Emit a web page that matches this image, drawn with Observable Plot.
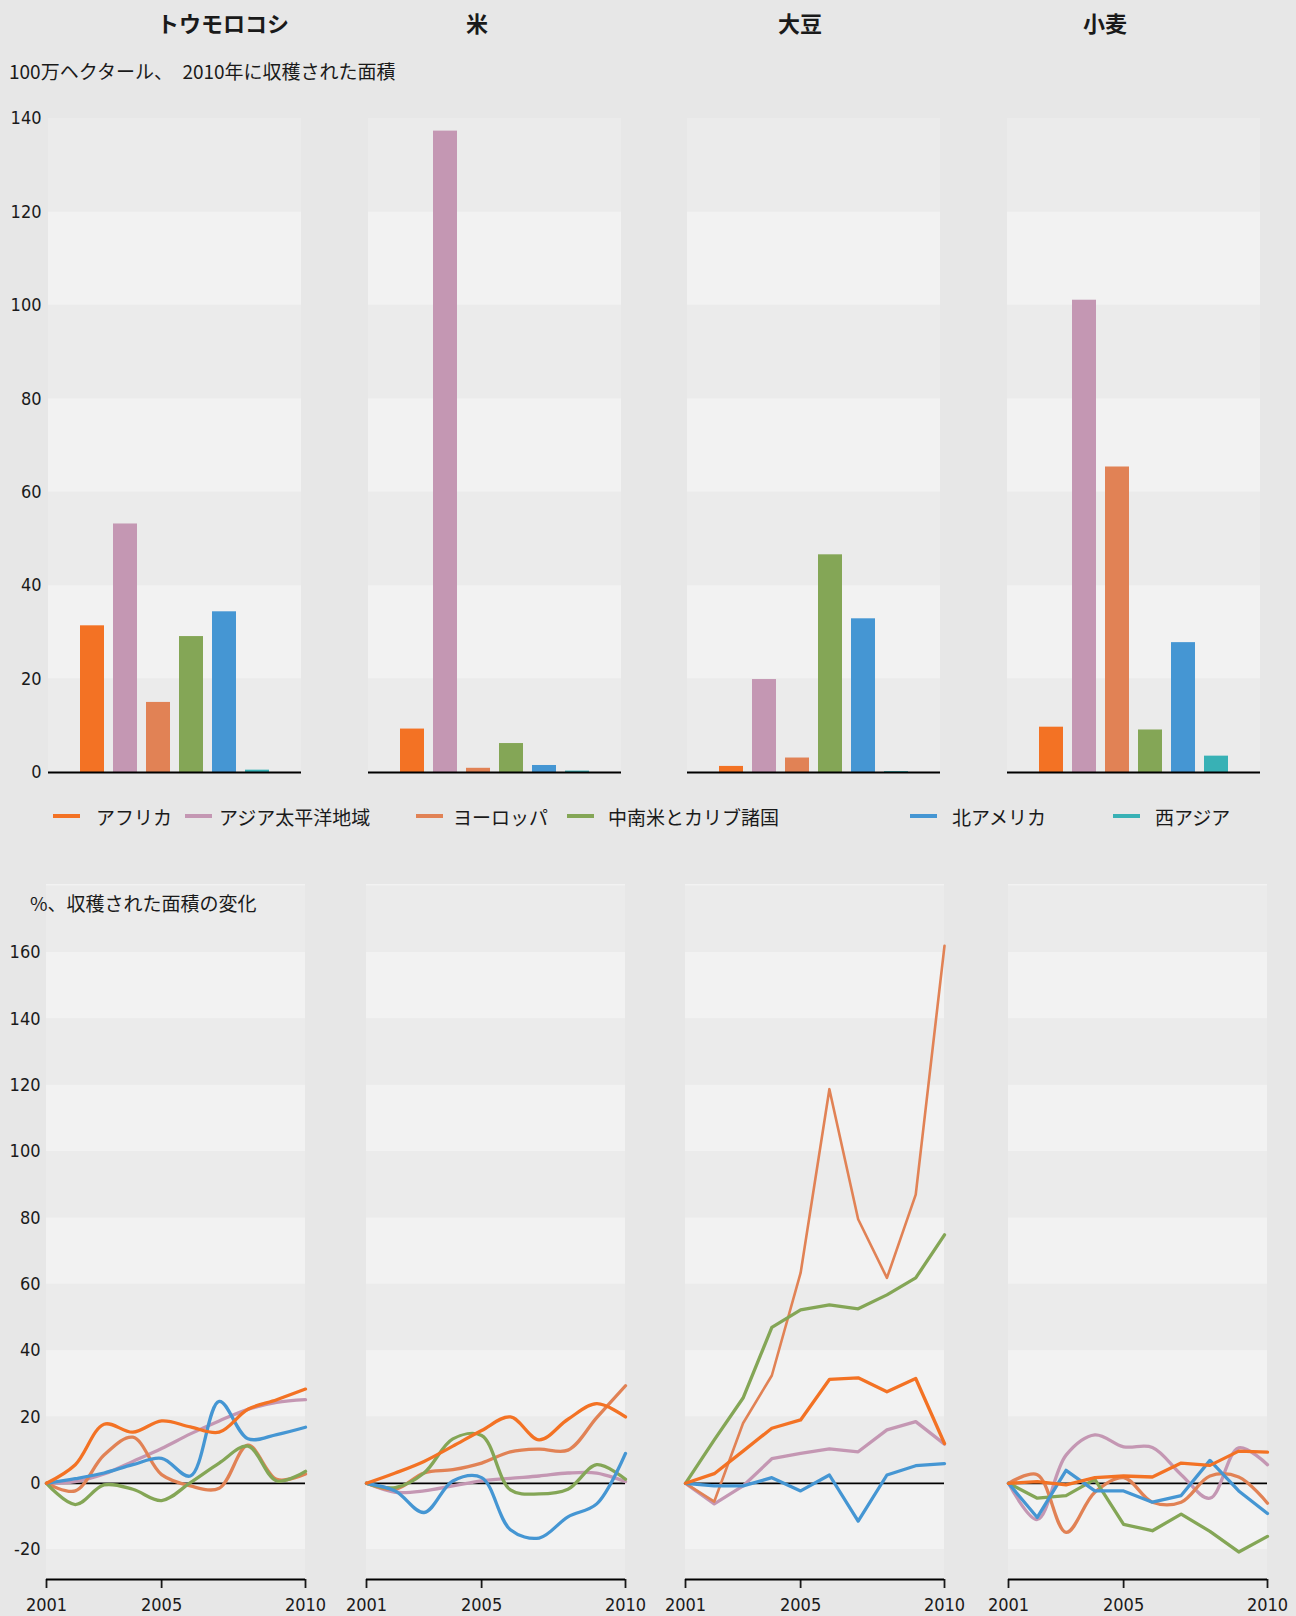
<!DOCTYPE html>
<html><head><meta charset="utf-8">
<script src="https://cdn.jsdelivr.net/npm/d3@7"></script>
<script src="https://cdn.jsdelivr.net/npm/@observablehq/plot@0.6"></script>
<style>
body{margin:0;background:#e7e7e7;}
#root{position:relative;width:1296px;height:1616px;background:#e7e7e7;overflow:hidden;font-family:"Noto Sans CJK JP","Noto Sans",sans-serif;color:#1a1a1a;}
.abs{position:absolute;white-space:nowrap;line-height:1;z-index:5;}
.title{font-weight:700;font-size:22px;transform:translate(-50%,-50%);}
.lab{font-size:19px;transform:translateY(-50%);}
.sw{position:absolute;height:4px;width:27px;transform:translateY(-50%);z-index:5;}
svg g[aria-label="x-axis tick"] path{stroke-width:1.8;}
</style>
</head><body><div id="root"></div>
<script>
// ---------- data ----------
const crops = ["トウモロコシ", "米", "大豆", "小麦"];
const regions = ["アフリカ", "アジア太平洋地域", "ヨーロッパ", "中南米とカリブ諸国", "北アメリカ", "西アジア"];
const regionColors = ["#f37224", "#c497b3", "#e18255", "#84a656", "#4596d3", "#38b1b5"];
const areaTicks = [0, 20, 40, 60, 80, 100, 120, 140];
const changeTicks = [-20, 0, 20, 40, 60, 80, 100, 120, 140, 160];
const yearTicks = [2001, 2005, 2010];
const years = [2001, 2002, 2003, 2004, 2005, 2006, 2007, 2008, 2009, 2010];

// million hectares harvested in 2010, by region (regions order)
const area2010Corn  = [31.4, 53.2, 15.0, 29.1, 34.4, 0.5];
const area2010Rice  = [9.3, 137.3, 0.9, 6.2, 1.5, 0.3];
const area2010Soy   = [1.3, 19.9, 3.1, 46.6, 32.9, 0.2];
const area2010Wheat = [9.7, 101.1, 65.4, 9.1, 27.8, 3.5];

// % change in harvested area since 2001; rows: アフリカ, アジア太平洋地域, ヨーロッパ, 中南米とカリブ諸国, 北アメリカ
const changeCorn = [
  [0, 5.6, 17.8, 15.4, 18.8, 17.0, 15.4, 22.3, 25.2, 28.4],
  [0, 0.5, 2.8, 6.6, 10.5, 14.9, 18.8, 22.3, 24.4, 25.2],
  [0, -2.3, 8.5, 13.9, 2.6, -0.8, -1.5, 11.5, 1.2, 2.8],
  [0, -6.4, -0.5, -1.8, -5.2, 0.2, 6.1, 11.2, 0.7, 3.6],
  [0, 1.4, 3.1, 5.6, 7.5, 2.2, 24.7, 13.4, 14.7, 16.9]
];
const changeRice = [
  [0, 3.1, 6.6, 11.2, 15.9, 20.0, 13.1, 19.3, 24.0, 20.0],
  [0, -2.7, -2.3, -0.8, 0.7, 1.5, 2.2, 3.1, 3.1, 0.5],
  [0, -1.8, 3.1, 4.1, 6.1, 9.5, 10.3, 10.0, 19.8, 29.4],
  [0, -1.3, 3.1, 13.4, 14.4, -2.0, -3.2, -1.8, 5.6, 1.2],
  [0, -2.3, -8.8, 0.7, 1.7, -14.0, -16.5, -10.1, -6.2, 9.0]
];
const changeSoy = [
  [0, 2.9, 9.7, 16.6, 19.1, 31.3, 31.8, 27.6, 31.6, 12.0],
  [0, -6.2, -0.8, 7.4, 9.0, 10.4, 9.5, 16.1, 18.6, 11.8],
  [0, -5.5, 18.1, 32.5, 63.4, 118.8, 79.6, 61.9, 87.0, 162.0],
  [0, 13.1, 25.7, 47.0, 52.3, 53.8, 52.6, 56.8, 61.9, 74.9],
  [0, -0.8, -0.8, 1.7, -2.3, 2.5, -11.4, 2.5, 5.3, 5.9]
];
const changeWheat = [
  [0, 0.5, -0.5, 1.7, 2.2, 1.9, 6.1, 5.4, 9.7, 9.4],
  [0, -10.9, 8.5, 14.6, 11.0, 10.8, 2.6, -4.5, 10.7, 5.6],
  [0, 2.6, -14.8, -2.7, 1.7, -5.7, -5.7, 2.2, 1.9, -6.0],
  [0, -4.5, -3.7, 1.2, -12.4, -14.3, -9.3, -14.5, -20.7, -16.0],
  [0, -10.3, 3.9, -2.3, -2.3, -5.7, -3.7, 6.9, -2.3, -9.1]
];

// ---------- layout ----------
const root = document.getElementById("root");
const DARK = "#ebebeb", LIGHT = "#f2f2f2";
const tickFont = {background: "transparent", fontFamily: "'DejaVu Sans Condensed','DejaVu Sans',sans-serif", fontSize: "18px", color: "#1a1a1a", overflow: "visible"};

function addText(cls, text, x, y) {
  const d = document.createElement("div");
  d.className = "abs " + cls;
  d.textContent = text;
  d.style.left = x + "px"; d.style.top = y + "px";
  root.appendChild(d);
}
function place(svg, left, top) {
  svg.style.position = "absolute";
  svg.style.left = left + "px";
  svg.style.top = top + "px";
  svg.style.maxWidth = "none";
  svg.style.zIndex = "1";
  root.appendChild(svg);
}
function bands(lo, hi) {
  const out = [];
  for (let b = Math.floor(lo / 20) * 20; b < hi; b += 20) {
    out.push({y1: Math.max(b, lo), y2: Math.min(b + 20, hi), dark: ((b / 20) % 2 + 2) % 2 === 0});
  }
  return out;
}

// titles
const titleX = [223, 477, 800, 1105];
crops.forEach((c, i) => addText("title", c, titleX[i], 22));
addText("lab", "100万ヘクタール、　2010年に収穫された面積", 9, 70);
addText("lab", "%、収穫された面積の変化", 30, 902);

// ---------- top: bars ----------
const areas = [area2010Corn, area2010Rice, area2010Soy, area2010Wheat];
const barLefts = [48, 368, 687, 1007];
const topBands = bands(0, 140);
areas.forEach((vals, i) => {
  const ml = i === 0 ? 48 : 0;
  const data = regions.map((r, k) => ({region: r, value: vals[k]}));
  const svg = Plot.plot({
    width: ml + 253, height: 674,
    marginLeft: ml, marginRight: 0, marginTop: 10, marginBottom: 10,
    style: tickFont,
    x: {domain: regions, paddingInner: 0.26, paddingOuter: 0.87, axis: null},
    y: {domain: [0, 140], ticks: areaTicks, tickFormat: d => String(d), tickSize: 0, tickPadding: 7, label: null, axis: i === 0 ? "left" : null},
    color: {domain: regions, range: regionColors},
    marks: [
      Plot.rect(topBands.filter(d => d.dark), {y1: "y1", y2: "y2", fill: DARK}),
      Plot.rect(topBands.filter(d => !d.dark), {y1: "y1", y2: "y2", fill: LIGHT}),
      Plot.barY(data, {x: "region", y: "value", fill: "region"}),
      Plot.ruleY([0], {stroke: "#000", strokeWidth: 2.2})
    ]
  });
  place(svg, barLefts[i] - ml, 108);
});

// legend
const swX = [53, 185, 416, 567, 910, 1113];
const lgX = [96, 219, 453, 608, 952, 1155];
regions.forEach((r, k) => {
  const s = document.createElement("div");
  s.className = "sw";
  s.style.left = swX[k] + "px"; s.style.top = "816px"; s.style.background = regionColors[k];
  root.appendChild(s);
  addText("lab", r, lgX[k], 816);
});

// ---------- bottom: lines ----------
const changes = [changeCorn, changeRice, changeSoy, changeWheat];
const lineLefts = [46, 366, 685, 1008];
const yMin = -29, yMax = 180.5;
const botBands = bands(yMin, yMax);
const curves = [
  ["catmull-rom", "catmull-rom", "catmull-rom", "catmull-rom", "catmull-rom"],
  ["catmull-rom", "catmull-rom", "catmull-rom", "catmull-rom", "catmull-rom"],
  ["linear", "linear", "linear", "linear", "linear"],
  ["linear", "catmull-rom", "catmull-rom", "linear", "linear"]
];
const drawOrder = [1, 2, 3, 4, 0];
changes.forEach((rows, i) => {
  const ml = i === 0 ? 46 : 24;
  const lineMarks = drawOrder.map(k => Plot.line(
    years.map((y, j) => ({year: y, v: rows[k][j]})),
    {x: "year", y: "v", stroke: regionColors[k], strokeWidth: (i === 2 && k === 2) ? 2.6 : 3.3, curve: curves[i][k]}
  ));
  const svg = Plot.plot({
    width: ml + 259 + 26, height: 742,
    marginLeft: ml, marginRight: 26, marginTop: 10, marginBottom: 37,
    style: tickFont,
    x: {domain: [2001, 2010], ticks: yearTicks, tickFormat: d => String(d), tickSize: 9, tickPadding: 10, label: null},
    y: {domain: [yMin, yMax], ticks: changeTicks, tickFormat: d => String(d), tickSize: 0, tickPadding: 6, label: null, axis: i === 0 ? "left" : null},
    marks: [
      Plot.rect(botBands.filter(d => d.dark), {y1: "y1", y2: "y2", fill: DARK}),
      Plot.rect(botBands.filter(d => !d.dark), {y1: "y1", y2: "y2", fill: LIGHT}),
      Plot.ruleY([0], {stroke: "#000", strokeWidth: 1.7}),
      ...lineMarks,
      Plot.ruleY([yMin], {stroke: "#000", strokeWidth: 2})
    ]
  });
  place(svg, lineLefts[i] - ml, 874);
});
</script>
</body></html>
